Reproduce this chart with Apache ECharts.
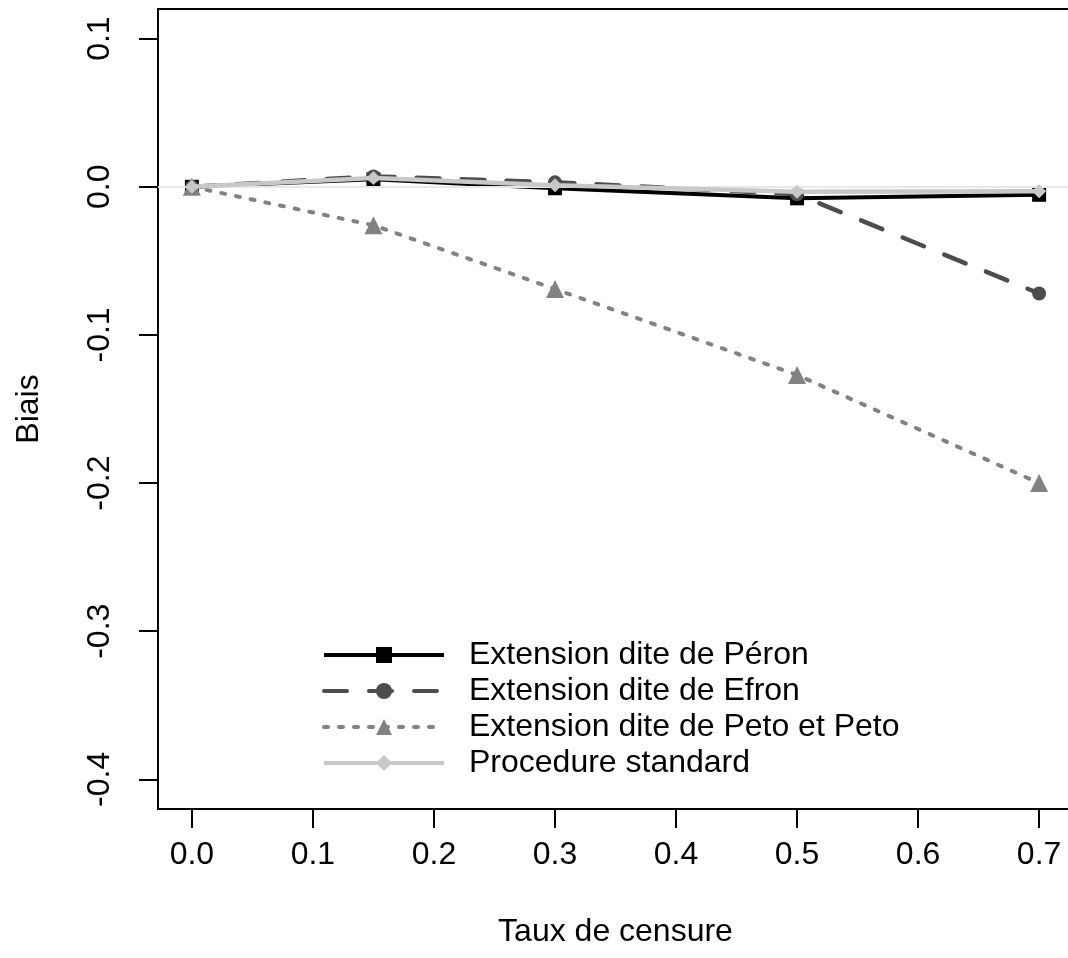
<!DOCTYPE html>
<html>
<head>
<meta charset="utf-8">
<script src="https://cdn.jsdelivr.net/npm/echarts@6/dist/echarts.min.js"></script>
<style>
  html, body { margin: 0; padding: 0; background: #fff; }
  #chart { width: 1068px; height: 958px; }
</style>
</head>
<body>
<div id="chart"></div>
<script>
// Censoring rates on the x axis
const taux = [0.0, 0.15, 0.3, 0.5, 0.7];

// Bias per method
const peron    = [0.000, 0.005, -0.001, -0.0078, -0.0054];
const efron    = [0.000, 0.007,  0.003, -0.005,  -0.072];
const petoPeto = [0.000, -0.026, -0.069, -0.127, -0.200];
const standard = [0.000, 0.006,  0.001, -0.0034, -0.003];

const seriesNames = [
  'Extension dite de Péron',
  'Extension dite de Efron',
  'Extension dite de Peto et Peto',
  'Procedure standard'
];

const xTicks = [0.0, 0.1, 0.2, 0.3, 0.4, 0.5, 0.6, 0.7];
const yTicks = [-0.4, -0.3, -0.2, -0.1, 0.0, 0.1];

const FONT = '"Liberation Sans", Arial, sans-serif';
const FS = 32;
const pairs = ys => taux.map((x, i) => [x, ys[i]]);

const chart = echarts.init(document.getElementById('chart'), null, { renderer: 'canvas' });

chart.setOption({
  animation: false,
  backgroundColor: '#ffffff',
  textStyle: { fontFamily: FONT },
  grid: {
    left: 158, top: 9, width: 915, bottom: 149,
    containLabel: false,
    outerBoundsMode: 'none',
    show: true, borderColor: '#000', borderWidth: 2, backgroundColor: 'transparent'
  },
  xAxis: {
    type: 'value',
    min: -0.028, max: 0.728,
    name: 'Taux de censure',
    nameLocation: 'middle',
    nameGap: 107,
    nameTextStyle: { fontSize: FS, color: '#000', fontFamily: FONT },
    axisLine: { show: false, onZero: false },
    splitLine: { show: false },
    axisTick: {
      show: true, inside: false, length: 19,
      customValues: xTicks,
      lineStyle: { color: '#000', width: 2 }
    },
    axisLabel: {
      customValues: xTicks,
      margin: 30,
      fontSize: FS, color: '#000', fontFamily: FONT,
      formatter: v => v.toFixed(1)
    }
  },
  yAxis: {
    type: 'value',
    min: -0.42, max: 0.12,
    name: 'Biais',
    nameLocation: 'middle',
    nameGap: 113,
    nameRotate: 90,
    nameTextStyle: { fontSize: FS, color: '#000', fontFamily: FONT },
    axisLine: { show: false, onZero: false },
    splitLine: { show: false },
    axisTick: {
      show: true, inside: false, length: 19,
      customValues: yTicks,
      lineStyle: { color: '#000', width: 2 }
    },
    axisLabel: {
      customValues: yTicks,
      rotate: 90,
      margin: 42,
      fontSize: FS, color: '#000', fontFamily: FONT,
      formatter: v => v.toFixed(1)
    }
  },
  legend: {
    orient: 'vertical',
    left: 322, top: 639,
    padding: 0,
    itemWidth: 120, itemHeight: 20,
    itemGap: 4,
    data: seriesNames,
    lineStyle: { width: 4 },
    textStyle: { fontSize: FS, color: '#000', fontFamily: FONT, lineHeight: 32, padding: [0, 0, 0, 20] },
    selectedMode: false
  },
  series: [
    {
      // reference line at zero bias
      name: 'zero',
      type: 'line',
      data: [],
      z: 1,
      silent: true,
      markLine: {
        silent: true,
        symbol: 'none',
        label: { show: false },
        lineStyle: { color: '#e8e8e8', width: 2, type: 'solid' },
        data: [{ yAxis: 0 }]
      }
    },
    {
      name: seriesNames[0],
      type: 'line',
      data: pairs(peron),
      z: 2,
      symbol: 'rect', symbolSize: 14,
      color: '#000000',
      itemStyle: { color: '#000000' },
      lineStyle: { color: '#000000', width: 4, type: 'solid' }
    },
    {
      name: seriesNames[1],
      type: 'line',
      data: pairs(efron),
      z: 3,
      symbol: 'circle', symbolSize: 14,
      color: '#4d4d4d',
      itemStyle: { color: '#4d4d4d' },
      lineStyle: { color: '#4d4d4d', width: 4.5, type: [23, 22], cap: 'round' }
    },
    {
      name: seriesNames[2],
      type: 'line',
      data: pairs(petoPeto),
      z: 4,
      symbol: 'triangle', symbolSize: 18,
      color: '#828282',
      itemStyle: { color: '#828282' },
      lineStyle: { color: '#828282', width: 4, type: [4, 11], cap: 'round' }
    },
    {
      name: seriesNames[3],
      type: 'line',
      data: pairs(standard),
      z: 5,
      symbol: 'diamond', symbolSize: 14,
      color: '#c8c8c8',
      itemStyle: { color: '#c8c8c8' },
      lineStyle: { color: '#c8c8c8', width: 4.5, type: 'solid' }
    }
  ]
});
</script>
</body>
</html>
